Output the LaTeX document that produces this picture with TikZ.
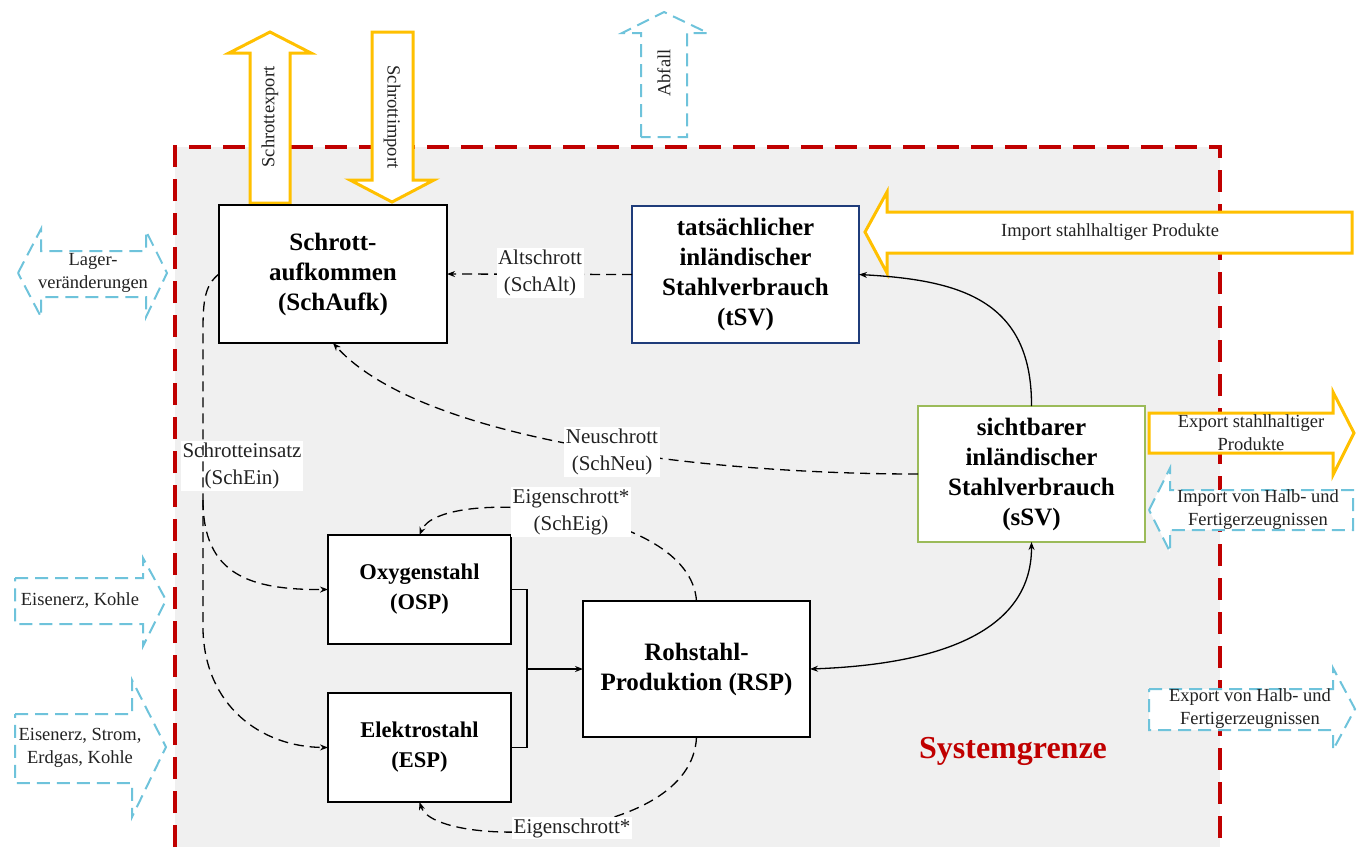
\documentclass[tikz,border=0pt]{standalone}
\usepackage{fontspec}
\setmainfont{Liberation Serif}
\usetikzlibrary{arrows.meta}
\definecolor{sysred}{HTML}{C00000}
\definecolor{ygold}{HTML}{FFC000}
\definecolor{lblue}{HTML}{6EC3DB}
\definecolor{navy}{HTML}{1F3C7A}
\definecolor{lgreen}{HTML}{9BBB59}
\definecolor{bggray}{HTML}{F0F0F0}
\definecolor{txt}{HTML}{222222}
\tikzset{
  box/.style={draw=black, line width=2.8pt, fill=white, align=center, outer sep=0pt, inner sep=2pt,
    font=\fontsize{25}{30}\selectfont\bfseries},
  sbox/.style={box, font=\fontsize{22.5}{30}\selectfont\bfseries},
  lbl/.style={fill=white, align=center, inner sep=1.5pt, text=txt, font=\fontsize{21}{27}\selectfont},
  alb/.style={align=center, inner sep=0pt, text=txt, font=\fontsize{18.5}{23}\selectfont},
  flow/.style={line width=1.3pt, dash pattern=on 10pt off 6pt},
  solidflow/.style={line width=1.3pt},
  tip/.style={-{Stealth[length=8pt,width=6pt]}},
  yarrow/.style={draw=ygold, line width=3pt, fill=white, line join=miter},
  barrow/.style={draw=lblue, line width=2pt, fill=white, dash pattern=on 13pt off 7pt},
  border/.style={draw=sysred, line width=3.5pt, dash pattern=on 22pt off 12pt}
}
\begin{document}
\begin{tikzpicture}[x=1pt,y=-1pt]
\useasboundingbox (0,0) rectangle (1362,847);
% system area
\fill[bggray] (175,147) rectangle (1220,847);
\draw[border] (175,847) -- (175,147) -- (1220,147) -- (1220,847);

% big external arrows
\draw[yarrow] (250,203) -- (250,53) -- (229,53) -- (270,32) -- (311,53) -- (290,53) -- (290,203) -- cycle;
\node[alb, rotate=90] (sexp) at (270,117) {Schrottexport};
\draw[yarrow] (372,32) -- (413,32) -- (413,180) -- (434,180) -- (392,202) -- (350,180) -- (372,180) -- cycle;
\node[alb, rotate=-90] (simp) at (392,117) {Schrottimport};
\draw[barrow] (641,137) -- (641,33) -- (622,33) -- (664,12) -- (708,33) -- (687,33) -- (687,137) -- cycle;
\node[alb, rotate=90] (abf) at (664,73) {Abfall};

\draw[barrow] (18,273) -- (41,229) -- (41,251) -- (146,251) -- (146,231) -- (167,273) -- (146,317) -- (146,297) -- (41,297) -- (41,317) -- cycle;
\node[alb] (lager) at (93,273) {Lager-\\veränderungen};
\draw[barrow] (15,578) -- (143,578) -- (143,558) -- (166,600) -- (143,646) -- (143,624) -- (15,624) -- cycle;
\node[alb] (ek) at (80,600) {Eisenerz, Kohle};
\draw[barrow] (15,714) -- (132,714) -- (132,680) -- (166,747) -- (132,817) -- (132,783) -- (15,783) -- cycle;
\node[alb] (esek) at (80,748) {Eisenerz, Strom,\\Erdgas, Kohle};

\draw[yarrow] (865,232) -- (887,192) -- (887,212) -- (1352,212) -- (1352,253) -- (887,253) -- (887,273) -- cycle;
\node[alb] (imps) at (1110,232) {Import stahlhaltiger Produkte};
\draw[yarrow] (1149,413) -- (1333,413) -- (1333,392) -- (1354,433) -- (1333,475) -- (1333,453) -- (1149,453) -- cycle;
\node[alb] (exps) at (1251,433) {Export stahlhaltiger\\Produkte};
\draw[barrow] (1149,510) -- (1170,468) -- (1170,490) -- (1353,490) -- (1353,530) -- (1170,530) -- (1170,552) -- cycle;
\node[alb] (imph) at (1258,510) {Import von Halb- und\\Fertigerzeugnissen};
\draw[barrow] (1149,689) -- (1333,689) -- (1333,668) -- (1355,709) -- (1333,750) -- (1333,730) -- (1149,730) -- cycle;
\node[alb] (exph) at (1250,709) {Export von Halb- und\\Fertigerzeugnissen};

% boxes
\node[box, minimum width=228pt, minimum height=138pt] (SchAufk) at (333,274) {Schrott-\\aufkommen\\(SchAufk)};
\node[box, draw=navy, minimum width=227pt, minimum height=137pt] (tSV) at (745.5,274.5) {tatsächlicher\\inländischer\\Stahlverbrauch\\(tSV)};
\node[box, draw=lgreen, minimum width=227pt, minimum height=136pt] (sSV) at (1031.5,474) {sichtbarer\\inländischer\\Stahlverbrauch\\(sSV)};
\node[sbox, minimum width=183pt, minimum height=109pt] (OSP) at (419.5,589.5) {Oxygenstahl\\(OSP)};
\node[sbox, minimum width=183pt, minimum height=109pt] (ESP) at (419.5,747.5) {Elektrostahl\\(ESP)};
\node[box, minimum width=227pt, minimum height=136pt] (RSP) at (696.5,669) {Rohstahl-\\Produktion (RSP)};

% Schrotteinsatz (label below the line)
\node[lbl] (lein) at (242,466) {Schrotteinsatz\\(SchEin)};
\coordinate (split) at (203,500);
\draw[flow] (SchAufk.west) .. controls (205,285) and (203,300) .. (203,330) -- (split);
\draw[flow, tip] (split) .. controls (203,575) and (250,590) .. (OSP.west);
\draw[flow, tip] (split) -- (203,630) .. controls (205,705) and (260,747) .. (ESP.west);

% Altschrott
\draw[flow, tip] (tSV.west) -- (SchAufk.east);
\node[lbl] (lalt) at (540,273) {Altschrott\\(SchAlt)};

% Neuschrott
\draw[flow, tip] (sSV.west) .. controls (700,474) and (420,440) .. (SchAufk.south);
\node[lbl] (lneu) at (612,452) {Neuschrott\\(SchNeu)};

% solid flows
\draw[solidflow, tip] (sSV.north) .. controls (1032,300) and (960,280) .. (tSV.east);
\draw[solidflow, {Stealth[length=8pt,width=6pt]}-{Stealth[length=8pt,width=6pt]}] (RSP.east) .. controls (920,665) and (1032,640) .. (sSV.south);
\coordinate (mid) at (527,669);
\draw[solidflow] (OSP.east) -- (OSP.east -| mid) -- (ESP.east -| mid) -- (ESP.east);
\draw[solidflow, tip] (mid) -- (RSP.west);

% Eigenschrott
\draw[flow, tip] (RSP.north) .. controls (690,505) and (440,485) .. (OSP.north);
\node[lbl] (leig) at (571,512) {Eigenschrott*\\(SchEig)};
\draw[flow, tip] (RSP.south) .. controls (692,845) and (435,850) .. (ESP.south);
\node[lbl] (leig2) at (572,828) {Eigenschrott*};

\node[text=sysred, font=\fontsize{32}{36}\selectfont\bfseries] (sg) at (1013,751) {Systemgrenze};
\end{tikzpicture}
\end{document}
